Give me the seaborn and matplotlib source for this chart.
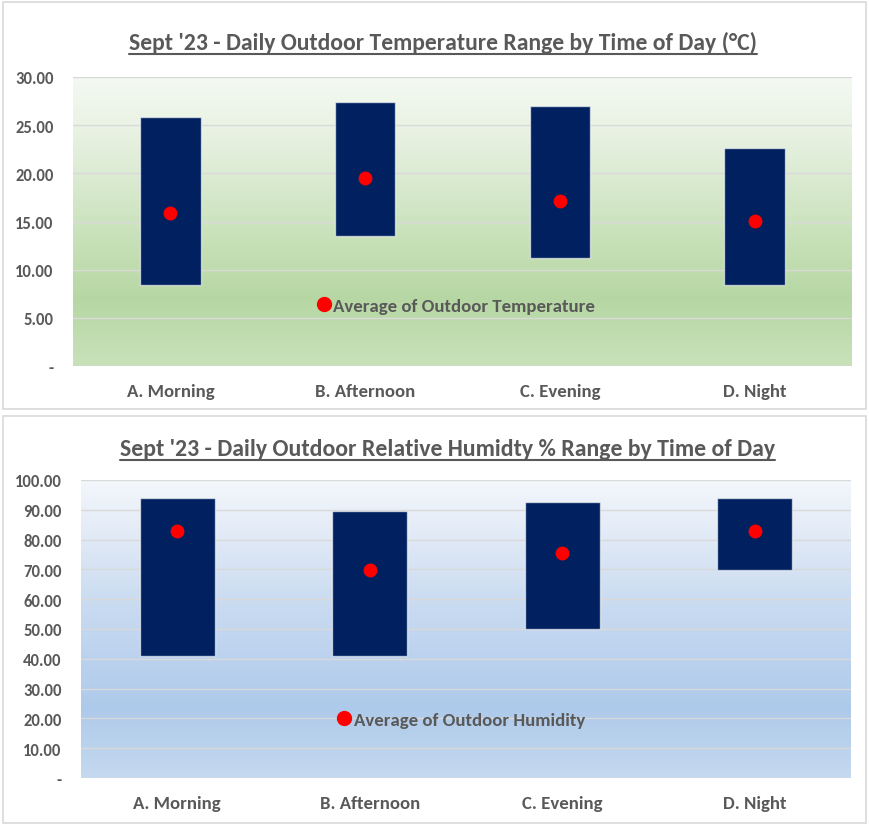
import numpy as np
import pandas as pd
import matplotlib
matplotlib.use("Agg")
import matplotlib.pyplot as plt
import seaborn as sns
from matplotlib.colors import LinearSegmentedColormap
from matplotlib.patches import Rectangle
from matplotlib.lines import Line2D

# ---------------- data ----------------
periods = ["A. Morning", "B. Afternoon", "C. Evening", "D. Night"]
temp_min = [8.4, 13.5, 11.2, 8.4]
temp_max = [25.85, 27.4, 27.0, 22.6]
temp_avg = [15.9, 19.5, 17.1, 15.05]
hum_min = [40.9, 40.9, 50.0, 69.8]
hum_max = [94.0, 89.6, 92.6, 94.0]
hum_avg = [82.9, 69.8, 75.5, 82.9]
temp_ticks = [0, 5, 10, 15, 20, 25, 30]
hum_ticks = [0, 10, 20, 30, 40, 50, 60, 70, 80, 90, 100]
title_temp = "Sept '23 - Daily Outdoor Temperature Range by Time of Day (°C)"
title_hum = "Sept '23 - Daily Outdoor Relative Humidty % Range by Time of Day"
legend_temp = "Average of Outdoor Temperature"
legend_hum = "Average of Outdoor Humidity"

sns.set_style("white")
plt.rcParams["font.family"] = ["Carlito", "DejaVu Sans"]

GREY = "#595959"
NAVY = "#002060"
W, H = 869, 829
fig = plt.figure(figsize=(W / 100, H / 100), dpi=100)
fig.patch.set_facecolor("white")


def px_axes(x0, y0, x1, y1):
    return fig.add_axes([x0 / W, 1 - y1 / H, (x1 - x0) / W, (y1 - y0) / H])


def panel(y0, y1):
    fig.patches.append(Rectangle((3 / W, 1 - y1 / H), (866 - 3) / W, (y1 - y0) / H,
                                 transform=fig.transFigure, fill=False,
                                 edgecolor="#D9D9D9", linewidth=1.2))


def draw(ax, lows, highs, avgs, ticks, stops, legend_text, leg_xy, bar_w):
    df = pd.DataFrame({"period": periods, "low": lows, "high": highs, "avg": avgs})
    df["span"] = df["high"] - df["low"]
    ymax = ticks[-1]
    sns.barplot(data=df, x="period", y="span", bottom=df["low"].values, color=NAVY,
                saturation=1, width=bar_w, errorbar=None, ax=ax, zorder=2,
                edgecolor=(1, 1, 1, 0.6), linewidth=1.0)
    sns.stripplot(data=df, x="period", y="avg", jitter=False, color="#FF0000", size=10,
                  linewidth=0, ax=ax, zorder=3)
    cmap = LinearSegmentedColormap.from_list("bg", stops)
    grad = np.linspace(0, 1, 256).reshape(-1, 1)
    ax.imshow(grad, extent=(-0.5, 3.5, 0, ymax), origin="lower", aspect="auto",
              cmap=cmap, zorder=0, interpolation="bicubic")
    ax.set_xlim(-0.5, 3.5)
    ax.set_ylim(0, ymax)
    ax.set_yticks(ticks)
    ax.set_yticklabels(["-" if t == 0 else f"{t:.2f}" for t in ticks])
    ax.set_axisbelow(True)
    ax.yaxis.grid(True, color="#D9D9D9", linewidth=1.0)
    ax.xaxis.grid(False)
    for s in ax.spines.values():
        s.set_visible(False)
    ax.set_xlabel("")
    ax.set_ylabel("")
    ax.tick_params(axis="y", length=0, pad=14, labelsize=12, labelcolor=GREY)
    ax.tick_params(axis="x", length=0, pad=12, labelsize=13.5, labelcolor=GREY)
    for lbl in ax.get_yticklabels() + ax.get_xticklabels():
        lbl.set_fontweight("bold")
    h = Line2D([], [], marker="o", linestyle="", color="#FF0000", markersize=10)
    ax.legend(handles=[h], labels=[legend_text], loc="center", bbox_to_anchor=leg_xy,
              frameon=False, handletextpad=0.0, handlelength=1.0,
              prop={"size": 13.5, "weight": "bold"}, labelcolor=GREY)


panel(3, 410)
panel(417, 824)

ax1 = px_axes(73, 78, 852, 367)
top_stops = [(0.0, "#C8E1BA"), (7 / 30, "#B6D7A3"), (10 / 30, "#BFDCAD"), (15 / 30, "#CDE4C0"),
             (20 / 30, "#DCEBD3"), (25 / 30, "#EAF3E5"), (1.0, "#F4F9F2")]
draw(ax1, temp_min, temp_max, temp_avg, temp_ticks, top_stops, legend_temp, (0.49, 0.208), 0.31)

ax2 = px_axes(81, 481, 851, 779)
bot_stops = [(0.0, "#C5D9EF"), (0.23, "#AECAEA"), (0.4, "#BBD2EE"), (0.6, "#CBDCF1"),
             (0.8, "#E0E9F6"), (1.0, "#F4F7FC")]
draw(ax2, hum_min, hum_max, hum_avg, hum_ticks, bot_stops, legend_hum, (0.492, 0.195), 0.39)

# titles, fitted to the reference width and underlined
titles = [(title_temp, 443, 50, 630, 55), (title_hum, 447.5, 456.5, 657, 461)]
renderer = fig.canvas.get_renderer()
for text, cx, base, target_w, uy in titles:
    t = fig.text(cx / W, 1 - base / H, text, ha="center", va="baseline",
                 fontsize=15, color=GREY, fontweight="bold")
    bb = t.get_window_extent(renderer)
    t.set_fontsize(15 * target_w / bb.width)
    bb = t.get_window_extent(renderer)
    fig.add_artist(Line2D([bb.x0 / W, bb.x1 / W], [1 - uy / H, 1 - uy / H],
                          transform=fig.transFigure, color=GREY, linewidth=1.5))

fig.savefig("out.png", dpi=100)
